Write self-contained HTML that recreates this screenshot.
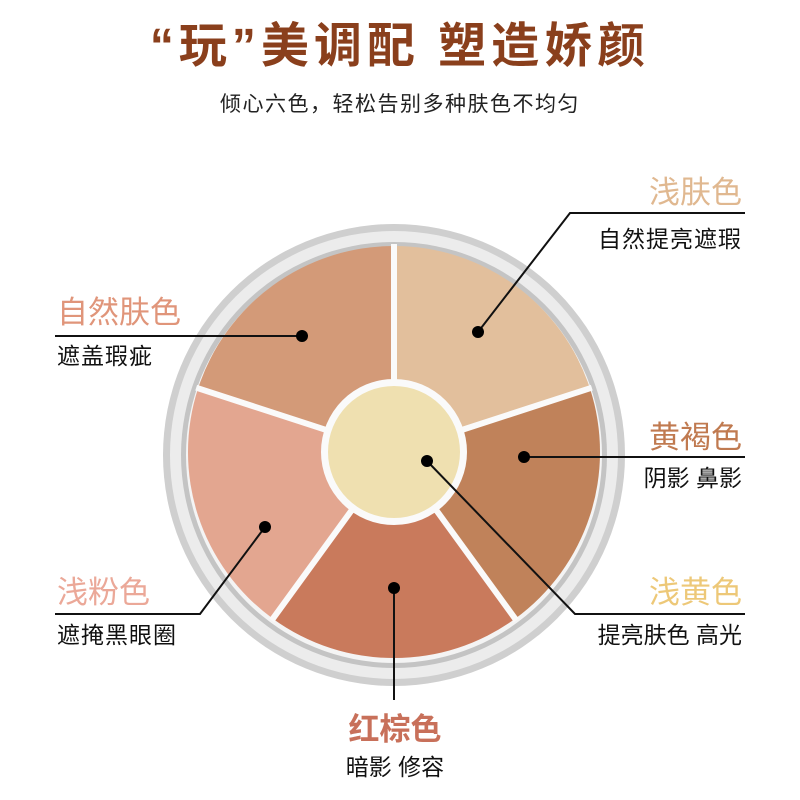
<!DOCTYPE html>
<html><head><meta charset="utf-8"><style>
body{margin:0;background:#fff;}
svg{display:block;font-family:"Liberation Sans","Noto Sans CJK SC",sans-serif;}
</style></head><body>
<svg width="800" height="800" viewBox="0 0 800 800">
<text x="400" y="62" text-anchor="middle" font-size="48" font-weight="bold" letter-spacing="5" fill="#8a3f1c">“玩”美调配  塑造娇颜</text>
<text x="400" y="111" text-anchor="middle" font-size="21" letter-spacing="1.5" fill="#222">倾心六色，轻松告别多种肤色不均匀</text>
<circle cx="394" cy="455" r="231" fill="#cfcfcf"/>
<circle cx="394" cy="455" r="224" fill="#ececec"/>
<circle cx="394" cy="455" r="213" fill="#c4c4c4"/>
<circle cx="394" cy="455" r="208" fill="#f4f4f4"/>
<g transform="translate(394,452)">
<path d="M0,0 L0,-206 A206,206 0 0 1 195.9,-63.7 Z" fill="#e2bf9c"/>
<path d="M0,0 L195.9,-63.7 A206,206 0 0 1 121.1,166.7 Z" fill="#c0825a"/>
<path d="M0,0 L121.1,166.7 A206,206 0 0 1 -121.1,166.7 Z" fill="#c97a5c"/>
<path d="M0,0 L-121.1,166.7 A206,206 0 0 1 -195.9,-63.7 Z" fill="#e3a690"/>
<path d="M0,0 L-195.9,-63.7 A206,206 0 0 1 0,-206 Z" fill="#d39a78"/>
<g stroke="#fafafa" stroke-width="6">
<line x1="0" y1="0" x2="0" y2="-208"/>
<line x1="0" y1="0" x2="197.8" y2="-64.3"/>
<line x1="0" y1="0" x2="122.3" y2="168.3"/>
<line x1="0" y1="0" x2="-122.3" y2="168.3"/>
<line x1="0" y1="0" x2="-197.8" y2="-64.3"/>
</g>
<circle r="73" fill="#fafafa"/>
<circle r="66" fill="#efe0b0"/>
</g>
<g stroke="#111" stroke-width="2" fill="none">
<polyline points="745,213 570,213 478,332"/>
<polyline points="55,336 302,336"/>
<polyline points="745,457 524,457"/>
<polyline points="55,614 200,614 265,527"/>
<polyline points="745,614 575,614 427,461"/>
<polyline points="394,588 394,700"/>
</g>
<g fill="#000">
<circle cx="478" cy="332" r="6"/><circle cx="302" cy="336" r="6"/>
<circle cx="524" cy="457" r="6"/><circle cx="265" cy="527" r="6"/>
<circle cx="427" cy="461" r="6"/><circle cx="394" cy="588" r="6"/>
</g>
<g font-size="31">
<text x="742" y="203" text-anchor="end" fill="#e0b890">浅肤色</text>
<text x="57" y="323" fill="#e0957a">自然肤色</text>
<text x="742" y="448" text-anchor="end" fill="#c07a50">黄褐色</text>
<text x="57" y="603" fill="#eba898">浅粉色</text>
<text x="742" y="603" text-anchor="end" fill="#edc878">浅黄色</text>
<text x="395" y="740" text-anchor="middle" fill="#c8705a" font-weight="bold">红棕色</text>
</g>
<g font-size="23" fill="#111">
<text x="742" y="247" text-anchor="end" letter-spacing="1">自然提亮遮瑕</text>
<text x="57" y="364" letter-spacing="1">遮盖瑕疵</text>
<text x="742" y="486" text-anchor="end">阴影 鼻影</text>
<text x="57" y="643" letter-spacing="1">遮掩黑眼圈</text>
<text x="742" y="643" text-anchor="end">提亮肤色 高光</text>
<text x="395" y="775" text-anchor="middle">暗影 修容</text>
</g>
</svg>
</body></html>
